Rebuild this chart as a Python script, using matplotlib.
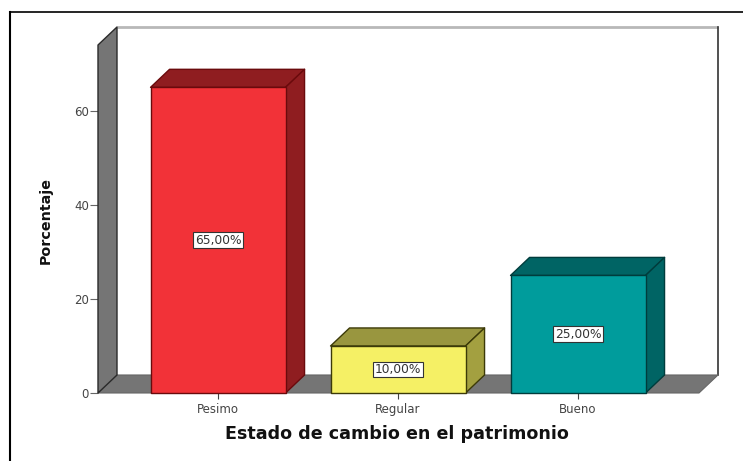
import matplotlib
matplotlib.use("Agg")
import matplotlib.pyplot as plt
from matplotlib.lines import Line2D
from matplotlib.patches import Polygon

categories = ["Pesimo", "Regular", "Bueno"]
percentages = [65.0, 10.0, 25.0]
value_labels = ["65,00%", "10,00%", "25,00%"]
y_ticks = [0, 20, 40, 60]
front_colors = ["#F23238", "#F5F065", "#009C9C"]
top_colors = ["#8F1D20", "#99963F", "#006464"]
side_colors = ["#8F1D20", "#A3A040", "#006464"]
edge_colors = ["#6A0A0C", "#3C3A08", "#003C3C"]

W, H = 743, 461
fig = plt.figure(figsize=(W / 100, H / 100), dpi=100, facecolor="white")

# Frame lines along the top and left of the chart
fig.add_artist(Line2D([9.5 / W, 9.5 / W], [0, 1 - 12 / H], transform=fig.transFigure, color="black", lw=1.5))
fig.add_artist(Line2D([9.5 / W, 1], [1 - 12 / H, 1 - 12 / H], transform=fig.transFigure, color="black", lw=1.2))

left, right, top, bottom = 98, 699, 45, 393
ax = fig.add_axes([left / W, 1 - bottom / H, (right - left) / W, (bottom - top) / H])
ax.set_xlim(-0.667, 2.672)
ax.set_ylim(0, 74)
ax.patch.set_visible(False)
for s in ax.spines.values():
    s.set_visible(False)

# Depth of the oblique projection, in data units
dx, dy = 19 / 180, 18 / 4.7
x0, x1 = ax.get_xlim()
y0, y1 = ax.get_ylim()
WALL = "#757575"


def poly(points, fc, ec="#222222", lw=1.0, z=2):
    ax.add_patch(Polygon(points, closed=True, facecolor=fc, edgecolor=ec, linewidth=lw,
                         clip_on=False, zorder=z, joinstyle="round"))


# Back wall, floor and left wall
ax.plot([x0 + dx, x1 + dx], [y1 + dy, y1 + dy], color="#B8B8B8", lw=2.0, clip_on=False, zorder=1.2, solid_capstyle="butt")
ax.plot([x1 + dx, x1 + dx], [y0 + dy, y1 + dy], color="#333333", lw=1.2, clip_on=False, zorder=1.5)
poly([(x0, y0), (x1, y0), (x1 + dx, y0 + dy), (x0 + dx, y0 + dy)], WALL, ec="#666666", lw=0.8, z=1.6)
poly([(x0, y0), (x0 + dx, y0 + dy), (x0 + dx, y1 + dy), (x0, y1)], WALL, ec="#2A2A2A", lw=1.0, z=1.7)

# Bars drawn as oblique boxes
width = 0.75
for i, v in enumerate(percentages):
    a, b = i - width / 2, i + width / 2
    poly([(a, v), (b, v), (b + dx, v + dy), (a + dx, v + dy)], top_colors[i], edge_colors[i], z=3)
    poly([(b, 0), (b + dx, dy), (b + dx, v + dy), (b, v)], side_colors[i], edge_colors[i], z=3)
    poly([(a, 0), (b, 0), (b, v), (a, v)], front_colors[i], edge_colors[i], z=4)
    ax.text(i, v / 2, value_labels[i], ha="center", va="center", fontsize=8.8, color="#333333",
            family="DejaVu Sans", zorder=5,
            bbox=dict(boxstyle="square,pad=0.12", facecolor="white", edgecolor="#333333", linewidth=0.8))

ax.set_xticks(range(len(categories)), categories)
ax.set_yticks(y_ticks)
ax.tick_params(axis="y", length=6, width=0.8, color="#666666", labelcolor="#444444", pad=0.5, labelsize=8.5)
ax.tick_params(axis="x", length=4, width=0.8, color="#444444", labelcolor="#444444", pad=3, labelsize=8.5)

fig.text(397 / W, 1 - 434 / H, "Estado de cambio en el patrimonio", ha="center", va="center",
         fontsize=12.6, fontweight="bold", family="DejaVu Sans", color="#111111")
fig.text(46 / W, 1 - 220 / H, "Porcentaje", ha="center", va="center", rotation=90,
         fontsize=10.3, fontweight="bold", family="DejaVu Sans", color="#111111")

fig.savefig("out.png", dpi=100)
